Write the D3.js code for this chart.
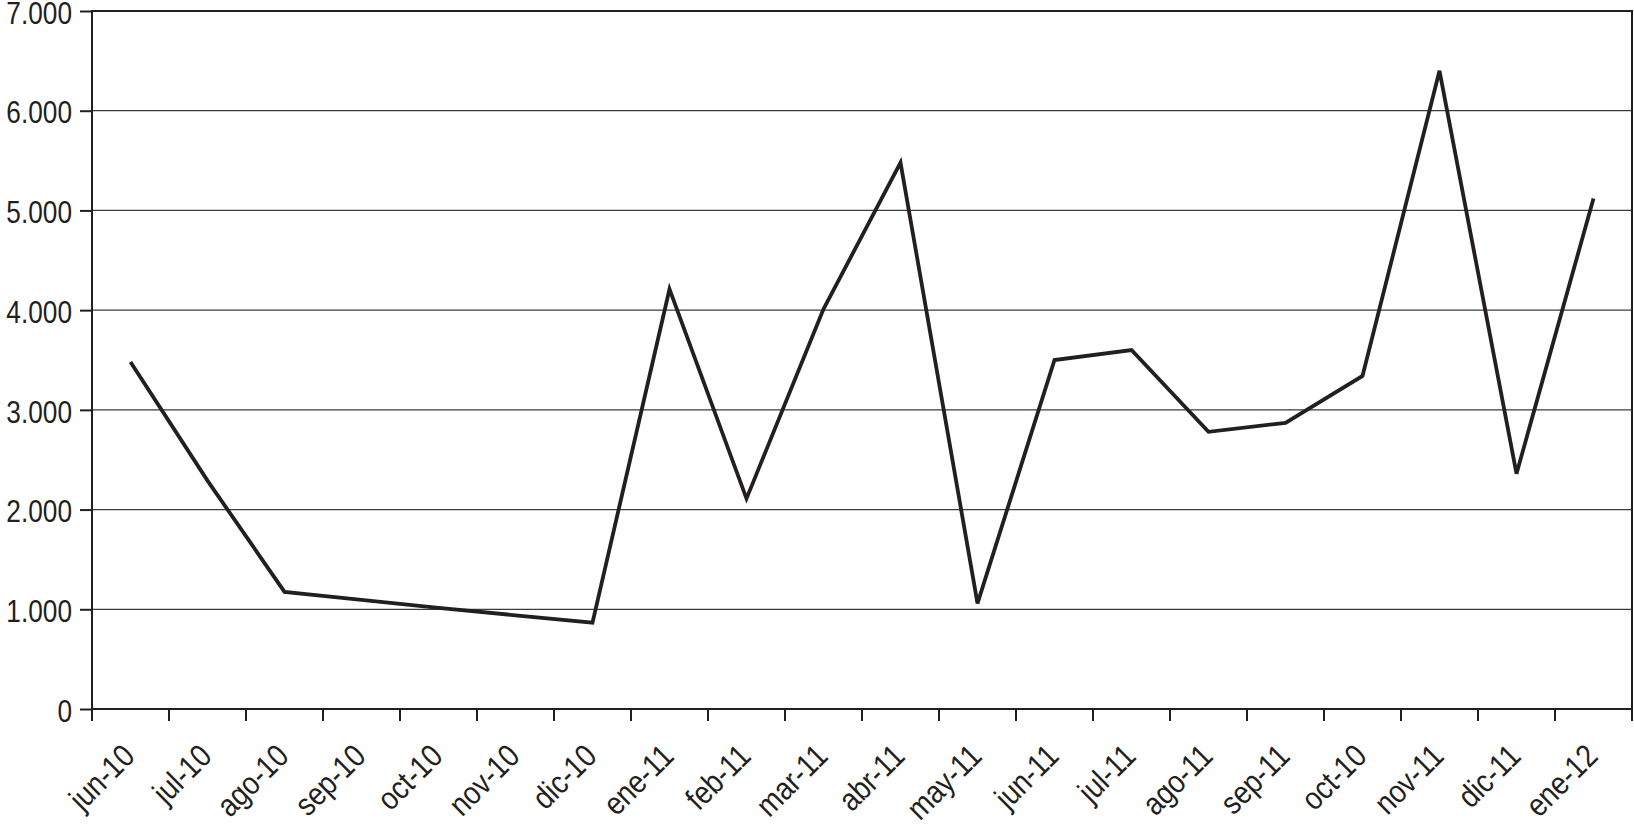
<!DOCTYPE html>
<html>
<head>
<meta charset="utf-8">
<script src="https://cdn.jsdelivr.net/npm/d3@7"></script>
<style>
  body { margin: 0; background: #fff; }
  svg text { font-family: "Liberation Sans Narrow", "Arial Narrow", "Liberation Sans", Arial, sans-serif; font-size: 32px; fill: #231f20; }
</style>
</head>
<body>
<svg width="1634" height="827"></svg>
<script>
var categories = ["jun-10", "jul-10", "ago-10", "sep-10", "oct-10", "nov-10", "dic-10",
                  "ene-11", "feb-11", "mar-11", "abr-11", "may-11", "jun-11", "jul-11",
                  "ago-11", "sep-11", "oct-10", "nov-11", "dic-11", "ene-12"];
var values = [3480, 2290, 1175, 1095, 1015, 940, 865,
              4210, 2110, 4010, 5480, 1060, 3500, 3600,
              2780, 2870, 3340, 6400, 2360, 5120];
var yTicks = [0, 1000, 2000, 3000, 4000, 5000, 6000, 7000];
var yTickLabels = ["0", "1.000", "2.000", "3.000", "4.000", "5.000", "6.000", "7.000"];

// the font here has no narrow cut, so squeeze it sideways
var squeezeY = 0.82,
    squeezeX = 0.86;

var svg = d3.select("svg"),
    margin = {top: 11, right: 2, bottom: 118, left: 92},
    width = +svg.attr("width") - margin.left - margin.right,
    height = +svg.attr("height") - margin.top - margin.bottom;

// "oct-10" shows up twice, so the band scale works on positions
var idx = categories.map(function(c, i) { return i; });
var x = d3.scaleBand().domain(idx).range([0, width]);
var y = d3.scaleLinear().domain([0, 7000]).range([height, 0]);

var g = svg.append("g")
    .attr("transform", "translate(" + margin.left + "," + margin.top + ")");

// horizontal grid
g.append("g")
    .selectAll("line")
    .data(yTicks.slice(1, -1))
  .enter().append("line")
    .attr("x1", 0)
    .attr("x2", width)
    .attr("y1", function(d) { return y(d); })
    .attr("y2", function(d) { return y(d); })
    .attr("stroke", "#3c3c3c")
    .attr("stroke-width", 1.2);

// y axis
var yAxis = g.append("g")
    .call(d3.axisLeft(y).tickValues(yTicks)
        .tickFormat(function(d, i) { return yTickLabels[i]; })
        .tickSize(12).tickPadding(8));
yAxis.select(".domain").remove();
yAxis.selectAll("line").attr("stroke", "#231f20").attr("stroke-width", 2);
yAxis.selectAll("text")
    .attr("x", 0)
    .attr("dy", "0.38em")
    .attr("transform", "translate(-20,0) scale(" + squeezeY + ",1)");

// x axis labels
var xAxis = g.append("g")
    .attr("transform", "translate(0," + height + ")")
    .call(d3.axisBottom(x).tickSize(0).tickFormat(function(i) { return categories[i]; }));
xAxis.select(".domain").remove();
xAxis.selectAll("text")
    .attr("y", 0)
    .attr("dy", null)
    .attr("text-anchor", "end")
    .attr("transform", "translate(6,49) rotate(-45) scale(" + squeezeX + ",1)");

// ticks on category boundaries
var edges = idx.map(function(i) { return x(i); }).concat([width]);
g.append("g")
    .selectAll("line")
    .data(edges)
  .enter().append("line")
    .attr("x1", function(d) { return d; })
    .attr("x2", function(d) { return d; })
    .attr("y1", height)
    .attr("y2", height + 12)
    .attr("stroke", "#231f20")
    .attr("stroke-width", 2);

// frame
g.append("rect")
    .attr("x", 0)
    .attr("y", y(7000))
    .attr("width", width)
    .attr("height", y(0) - y(7000))
    .attr("fill", "none")
    .attr("stroke", "#231f20")
    .attr("stroke-width", 2);

var line = d3.line()
    .x(function(d, i) { return x(i) + x.bandwidth() / 2; })
    .y(function(d) { return y(d); });

g.append("path")
    .datum(values)
    .attr("d", line)
    .attr("fill", "none")
    .attr("stroke", "#231f20")
    .attr("stroke-width", 3.8);
</script>
</body>
</html>
